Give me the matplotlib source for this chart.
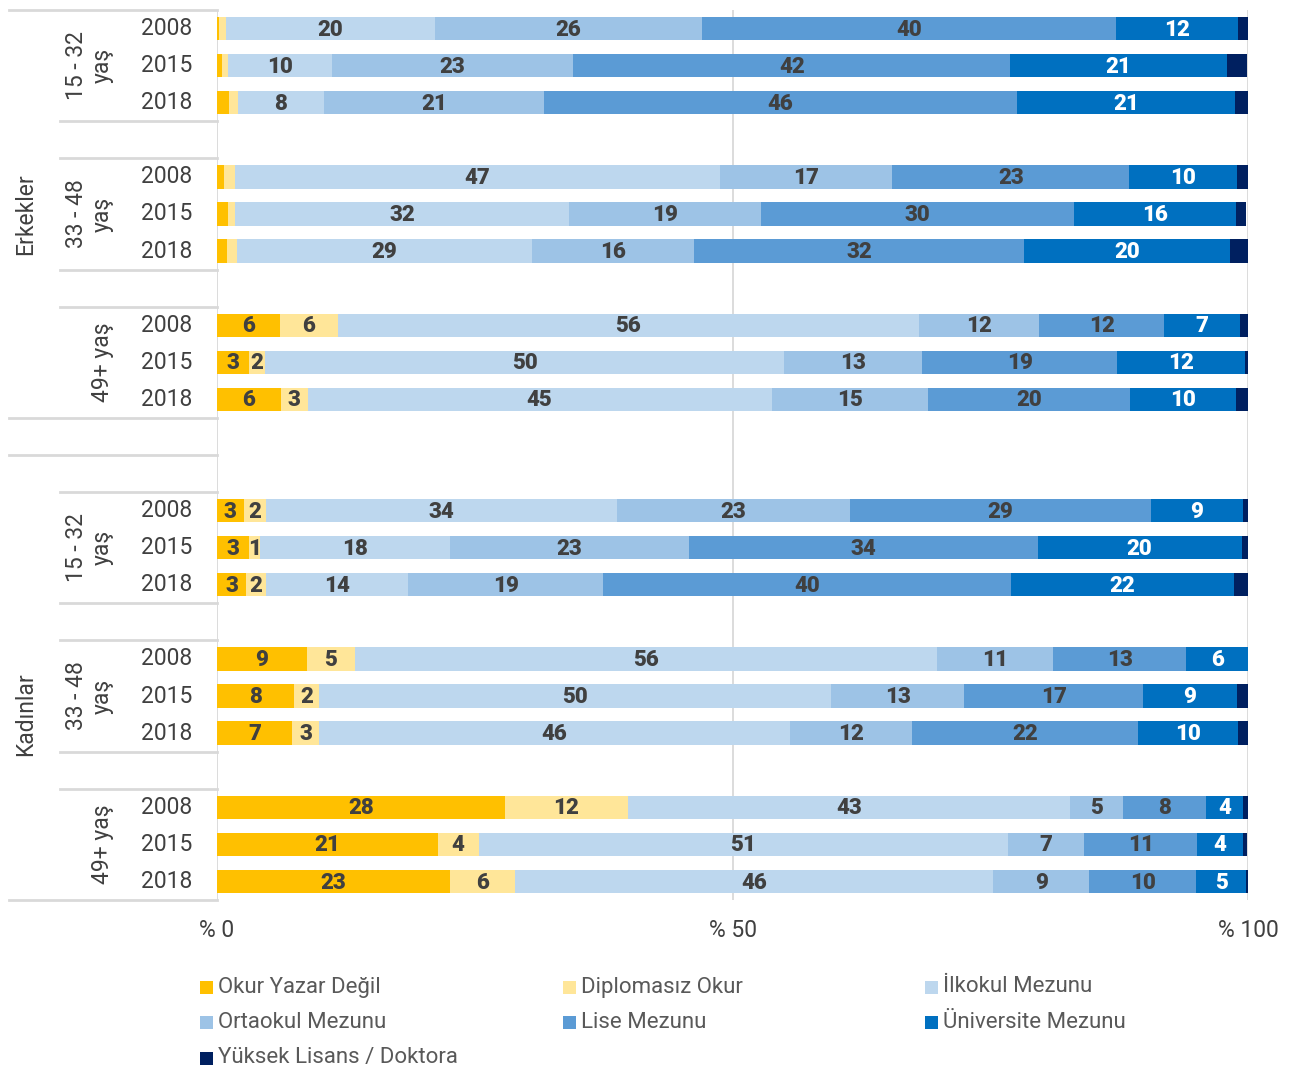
import matplotlib
matplotlib.use("Agg")
import matplotlib.pyplot as plt
from matplotlib.patches import Rectangle
from matplotlib.transforms import blended_transform_factory
import numpy as np

plt.rcParams['font.family'] = ['Roboto', 'DejaVu Sans']

# ---------------- data ----------------
genders = ["Erkekler", "Kadınlar"]
age_groups = ["15 - 32\nyaş", "33 - 48\nyaş", "49+ yaş"]
years = ["2008", "2015", "2018"]

series_names = ["Okur Yazar Değil", "Diplomasız Okur", "İlkokul Mezunu",
                "Ortaokul Mezunu", "Lise Mezunu", "Üniversite Mezunu",
                "Yüksek Lisans / Doktora"]

okur = [0.15, 0.45, 1.2, 0.7, 1.05, 1.0, 6.1, 3.1, 6.2,
        2.6, 3.1, 2.85, 8.7, 7.5, 7.3, 27.9, 21.4, 22.6]
dipl = [0.75, 0.6, 0.8, 1.0, 0.7, 0.9, 5.6, 1.6, 2.6,
        2.2, 1.1, 1.9, 4.7, 2.4, 2.6, 12.0, 4.0, 6.3]
ilk = [20.2, 10.1, 8.4, 47.1, 32.4, 28.7, 56.4, 50.3, 45.0,
       34.0, 18.4, 13.8, 56.4, 49.7, 45.7, 42.8, 51.3, 46.4]
ort = [25.9, 23.4, 21.3, 16.7, 18.6, 15.7, 11.6, 13.4, 15.2,
       22.6, 23.2, 18.9, 11.3, 12.9, 11.8, 5.2, 7.4, 9.3]
lise = [40.2, 42.4, 45.9, 23.0, 30.4, 32.0, 12.2, 18.9, 19.6,
        29.2, 33.8, 39.6, 12.9, 17.3, 21.9, 8.0, 11.0, 10.4]
uni = [11.8, 21.0, 21.1, 10.4, 15.7, 20.0, 7.3, 12.4, 10.2,
       8.9, 19.8, 21.6, 6.0, 9.1, 9.7, 3.6, 4.4, 4.8]
yl = [1.1, 2.0, 1.3, 1.2, 1.0, 1.7, 0.8, 0.3, 1.2,
      0.5, 0.7, 1.4, 0.1, 1.2, 1.0, 0.5, 0.4, 0.3]

x_ticks = [0, 50, 100]
x_ticklabels = ["% 0", "% 50", "% 100"]

# ---------------- style ----------------
colors = ["#FFC000", "#FFE699", "#BDD7EE", "#9DC3E6", "#5B9BD5", "#0070C0", "#002060"]
label_colors = ["#404040", "#404040", "#404040", "#404040", "#404040", "white", None]
grid_c = "#D9D9D9"
text_c = "#404040"

W, H = 1295, 1070
fig = plt.figure(figsize=(W / 100, H / 100), dpi=100)
ax_left, ax_right = 217 / W, 1248 / W
ax_top, ax_bot = 1 - 10 / H, 1 - 900 / H
ax = fig.add_axes([ax_left, ax_bot, ax_right - ax_left, ax_top - ax_bot])

# slot positions: 3 bars per age group, blank slot between groups, 2 between genders
slots = []
for g in range(2):
    for a in range(3):
        for y in range(3):
            slots.append(g * 13 + a * 4 + y)
slots = np.array(slots, dtype=float)

data = [okur, dipl, ilk, ort, lise, uni, yl]
left = np.zeros(len(slots))
bar_h = 0.63
for s, (vals, col, lc) in enumerate(zip(data, colors, label_colors)):
    vals = np.array(vals)
    ax.barh(slots, vals, left=left, height=bar_h, color=col, edgecolor='none', zorder=3)
    if lc is not None:
        for i, v in enumerate(vals):
            thr = 1.5 if i < 9 else 1.0
            if v >= thr:
                ax.text(left[i] + v / 2, slots[i] + 0.03, f"{int(round(v))}", ha='center',
                        va='center', fontsize=16, fontweight='black', color=lc, zorder=4)
    left += vals

ax.set_xlim(0, 100)
ax.set_ylim(23.5, -0.5)
for s in ax.spines.values():
    s.set_visible(False)
ax.set_yticks([])
ax.set_xticks(x_ticks)
ax.set_xticklabels(x_ticklabels, fontsize=16.5, color=text_c)
ax.tick_params(axis='x', length=0, pad=14)
for xv in x_ticks:
    ax.axvline(xv, color=grid_c, lw=1.3, zorder=1)

# ---------------- left category table ----------------
tr = blended_transform_factory(fig.transFigure, ax.transData)
x0_outer, x0_inner, x_end = 9 / W, 60 / W, 217 / W
for yv in [-0.5, 10.5, 11.5, 23.5]:
    ax.plot([x0_outer, x_end], [yv, yv], transform=tr, color=grid_c, lw=2, clip_on=False)
for yv in [2.5, 3.5, 6.5, 7.5, 12.5, 15.5, 16.5, 19.5, 20.5]:
    ax.plot([x0_inner, x_end], [yv, yv], transform=tr, color=grid_c, lw=2, clip_on=False)

for i, yr in enumerate(years * 6):
    ax.text(167 / W, slots[i], yr, transform=tr, ha='center', va='center',
            fontsize=16.5, color=text_c)

for g, gname in enumerate(genders):
    gc = slots[g * 9: g * 9 + 9]
    center = (gc.min() + gc.max()) / 2 + (0.5 if g == 1 else 0)
    ax.text(26 / W, center, gname, transform=tr, rotation=90, ha='center', va='center',
            fontsize=16.5, color=text_c)
    for a, aname in enumerate(age_groups):
        ac = slots[g * 9 + a * 3: g * 9 + a * 3 + 3].mean()
        if "\n" in aname:
            ax.text(89 / W, ac, aname, transform=tr, rotation=90, ha='center', va='center',
                    multialignment='center', fontsize=16.5, color=text_c, linespacing=1.15)
        else:
            ax.text(103 / W, ac, aname, transform=tr, rotation=90, ha='center', va='center',
                    fontsize=16.5, color=text_c)

# ---------------- legend (row-major, 3 columns) ----------------
col_x = [200, 563, 925]
row_y = [987, 1022, 1058]
for k, (name, col) in enumerate(zip(series_names, colors)):
    r, c = divmod(k, 3)
    xs, yc = col_x[c], row_y[r]
    fig.patches.append(Rectangle((xs / W, 1 - (yc + 6.5) / H), 13 / W, 13 / H,
                                 transform=fig.transFigure, facecolor=col, edgecolor='none'))
    fig.text((xs + 18) / W, 1 - yc / H, name, ha='left', va='center',
             fontsize=16, color="#595959")

fig.savefig("out.png", dpi=100)
